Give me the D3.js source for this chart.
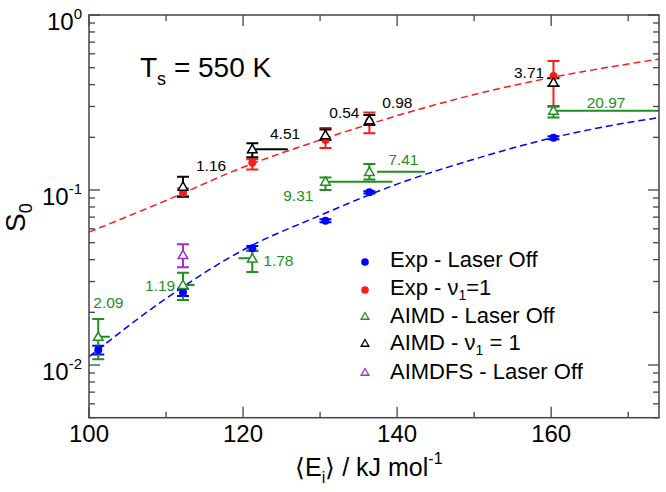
<!DOCTYPE html>
<html><head><meta charset="utf-8">
<script src="https://cdn.jsdelivr.net/npm/d3@7"></script>
<style>html,body{margin:0;padding:0;background:#fff;} svg{display:block;font-family:"Liberation Sans",Arial,Helvetica,sans-serif;}</style>
</head><body>
<svg id="chart" width="666" height="492"></svg>
<script>
// ---- data ----
const energies = [101.2, 112.2, 121.2, 130.7, 136.4, 160.3];
const expOff   = [0.0122, 0.026, 0.0464, 0.0668, 0.097, 0.199];
const expOffLo = [0.0115, 0.0248, 0.0449, 0.0655, 0.0955, 0.195];
const expOffHi = [0.0129, 0.0273, 0.0479, 0.0681, 0.0985, 0.203];
const expV1E   = [112.2, 121.2, 130.7, 136.4, 160.3];
const expV1    = [0.0965, 0.143, 0.193, 0.248, 0.448];
const expV1Lo  = [0.092, 0.131, 0.174, 0.211, 0.302];
const expV1Hi  = [0.102, 0.150, 0.226, 0.277, 0.546];
const aimdOff   = [0.0145, 0.0287, 0.0407, 0.1116, 0.127, 0.284];
const aimdOffLo = [0.0108, 0.0235, 0.034, 0.100, 0.115, 0.26];
const aimdOffHi = [0.0183, 0.0337, 0.045, 0.118, 0.141, 0.299];
const aimdOffLineFrom = [101.2, 112.2, 119.4, 130.7, 137.4, 160.3];
const aimdOffLineTo   = [102.7, 113.7, 121.2, 139.4, 143.6, 180];
const aimdOffLabels   = ["2.09", "1.19", "1.78", "9.31", "7.41", "20.97"];
const aimdV1E   = [112.2, 121.2, 130.7, 136.4, 160.3];
const aimdV1    = [0.1045, 0.171, 0.206, 0.251, 0.412];
const aimdV1Lo  = [0.0916, 0.154, 0.193, 0.235, 0.393];
const aimdV1Hi  = [0.119, 0.185, 0.222, 0.268, 0.435];
const aimdV1LineFrom = [null, 121.2, null, null, null];
const aimdV1LineTo   = [null, 125.8, null, null, null];
const aimdV1Labels   = ["1.16", "4.51", "0.54", "0.98", "3.71"];
const aimdfsE  = [112.2];
const aimdfs   = [0.0425];
const aimdfsLo = [0.0362];
const aimdfsHi = [0.049];
const fitE   = [100, 110, 120, 130, 140, 150, 160, 170, 174];
const fitOff = [0.01115, 0.024, 0.0454, 0.0716, 0.108, 0.150, 0.198, 0.243, 0.259];
const fitV1  = [0.0575, 0.0871, 0.135, 0.193, 0.266, 0.351, 0.439, 0.525, 0.560];
const xTicks = [100, 120, 140, 160];
const xMinor = [110, 130, 150, 170];
const yDecades = [1, 0.1, 0.01];
const yDecadeLabels = ["0", "-1", "-2"];
const legendItems = [
  {label: "Exp - Laser Off", sub: null, rest: null},
  {label: "Exp - ν", sub: "1", rest: "=1"},
  {label: "AIMD - Laser Off", sub: null, rest: null},
  {label: "AIMD - ν", sub: "1", rest: " = 1"},
  {label: "AIMDFS - Laser Off", sub: null, rest: null}
];

// ---- layout ----
const C = {blue: "#0000ff", red: "#ff1a1a", green: "#1f8f1f", black: "#000", purple: "#9932cc", axis: "#444"};
const L = 89, R = 659, T = 15, B = 417.7;
const svg = d3.select("#chart");
const x = d3.scaleLinear().domain([100, 174]).range([L, R]);
const y = d3.scaleLog().domain([0.005, 1]).range([B, T]);

svg.append("clipPath").attr("id", "clip").append("rect")
  .attr("x", L).attr("y", T).attr("width", R - L).attr("height", B - T);
const plot = svg.append("g").attr("clip-path", "url(#clip)");

// fit curves
const line = d3.line().x(d => x(d[0])).y(d => y(d[1])).curve(d3.curveMonotoneX);
plot.append("path").datum(fitE.map((e, i) => [e, fitOff[i]])).attr("d", line)
  .attr("fill", "none").attr("stroke", C.blue).attr("stroke-width", 1.5).attr("stroke-dasharray", "7,4");
plot.append("path").datum(fitE.map((e, i) => [e, fitV1[i]])).attr("d", line)
  .attr("fill", "none").attr("stroke", C.red).attr("stroke-width", 1.5).attr("stroke-dasharray", "7,4");

// horizontal lines
function hlines(from, to, vals, color) {
  from.forEach((f, i) => {
    if (f == null) return;
    plot.append("line").attr("x1", x(f)).attr("x2", x(to[i]))
      .attr("y1", y(vals[i])).attr("y2", y(vals[i]))
      .attr("stroke", color).attr("stroke-width", 2);
  });
}
hlines(aimdOffLineFrom, aimdOffLineTo, aimdOff, C.green);
hlines(aimdV1LineFrom, aimdV1LineTo, aimdV1, C.black);

// error bars
function errbars(es, lo, hi, color) {
  const g = plot.append("g").attr("stroke", color).attr("stroke-width", 2);
  es.forEach((e, i) => {
    const cx = x(e);
    g.append("line").attr("x1", cx).attr("x2", cx).attr("y1", y(lo[i])).attr("y2", y(hi[i]));
    [lo[i], hi[i]].forEach(v => g.append("line").attr("x1", cx - 6).attr("x2", cx + 6).attr("y1", y(v)).attr("y2", y(v)));
  });
}
errbars(energies, expOffLo, expOffHi, C.blue);
errbars(expV1E, expV1Lo, expV1Hi, C.red);
errbars(energies, aimdOffLo, aimdOffHi, C.green);
errbars(expV1E, aimdV1Lo, aimdV1Hi, C.black);
errbars(aimdfsE, aimdfsLo, aimdfsHi, C.purple);

// markers
const tri = d3.symbol().type(d3.symbolTriangle).size(40);
const triSmall = d3.symbol().type(d3.symbolTriangle).size(26);
function dots(es, vals, color) {
  plot.append("g").selectAll("circle").data(es).join("circle")
    .attr("cx", d => x(d)).attr("cy", (d, i) => y(vals[i])).attr("r", 4).attr("fill", color);
}
function tris(es, vals, color) {
  plot.append("g").selectAll("path").data(es).join("path")
    .attr("d", tri).attr("transform", (d, i) => `translate(${x(d)},${y(vals[i]) + 0.8})`)
    .attr("fill", "#fff").attr("stroke", color).attr("stroke-width", 1.5);
}
dots(energies, expOff, C.blue);
dots(expV1E, expV1, C.red);
tris(energies, aimdOff, C.green);
tris(aimdV1E, aimdV1, C.black);
tris(aimdfsE, aimdfs, C.purple);

// annotations
const greenLabelPos = [[93.3, 308.3], [145, 291], [263.3, 265.7], [283.3, 200.7], [388.3, 165], [586.7, 107.7]];
const blackLabelPos = [[196, 170.7], [270, 139], [329.3, 118.3], [382.3, 108.3], [514, 78.3]];
aimdOffLabels.forEach((t, i) => svg.append("text").attr("x", greenLabelPos[i][0]).attr("y", greenLabelPos[i][1])
  .attr("font-size", 15.5).attr("fill", C.green).text(t));
aimdV1Labels.forEach((t, i) => svg.append("text").attr("x", blackLabelPos[i][0]).attr("y", blackLabelPos[i][1])
  .attr("font-size", 15.5).attr("fill", C.black).text(t));

// frame
svg.append("rect").attr("x", L).attr("y", T).attr("width", R - L).attr("height", B - T)
  .attr("fill", "none").attr("stroke", C.axis).attr("stroke-width", 1.5);
const ticks = svg.append("g").attr("stroke", C.axis).attr("stroke-width", 1.3);
xTicks.forEach(v => {
  ticks.append("line").attr("x1", x(v)).attr("x2", x(v)).attr("y1", B).attr("y2", B - 11);
  ticks.append("line").attr("x1", x(v)).attr("x2", x(v)).attr("y1", T).attr("y2", T + 11);
});
xMinor.forEach(v => {
  ticks.append("line").attr("x1", x(v)).attr("x2", x(v)).attr("y1", B).attr("y2", B - 6);
  ticks.append("line").attr("x1", x(v)).attr("x2", x(v)).attr("y1", T).attr("y2", T + 6);
});
y.ticks().forEach(v => {
  const major = yDecades.includes(+v.toPrecision(3));
  const len = major ? 11 : 6;
  ticks.append("line").attr("x1", L).attr("x2", L + len).attr("y1", y(v)).attr("y2", y(v));
  ticks.append("line").attr("x1", R).attr("x2", R - len).attr("y1", y(v)).attr("y2", y(v));
});

// tick labels
xTicks.forEach(v => svg.append("text").attr("x", x(v)).attr("y", 442).attr("text-anchor", "middle")
  .attr("font-size", 24).text(v));
yDecades.forEach((v, i) => {
  const t = svg.append("text").attr("x", 82).attr("y", y(v) + 15).attr("text-anchor", "end").attr("font-size", 24);
  t.append("tspan").text("10");
  t.append("tspan").attr("font-size", 15).attr("dy", -11).text(yDecadeLabels[i]);
});

// axis titles
const yt = svg.append("text").attr("transform", "translate(25,232) rotate(-90)").attr("font-size", 28);
yt.append("tspan").text("S");
yt.append("tspan").attr("font-size", 18).attr("dy", 7).text("0");

const xt = svg.append("text").attr("x", 295).attr("y", 476).attr("font-size", 25);
xt.append("tspan").text("⟨E");
xt.append("tspan").attr("font-size", 16).attr("dy", 7).text("i");
xt.append("tspan").attr("dy", -7).text("⟩ / kJ mol");
xt.append("tspan").attr("font-size", 16).attr("dy", -12).text("-1");

// Ts label
const ts = svg.append("text").attr("x", 140).attr("y", 77).attr("font-size", 28);
ts.append("tspan").text("T");
ts.append("tspan").attr("font-size", 18).attr("dy", 8).text("s");
ts.append("tspan").attr("dy", -8).text(" = 550 K");

// legend
const legColors = [C.blue, C.red, C.green, C.black, C.purple];
const legBase = [267, 295, 323, 350, 379];
legendItems.forEach((it, i) => {
  const yy = legBase[i];
  if (i < 2) {
    svg.append("circle").attr("cx", 365).attr("cy", yy - 5).attr("r", 3.8).attr("fill", legColors[i]);
  } else {
    svg.append("path").attr("d", triSmall).attr("transform", `translate(365,${yy - 6})`)
      .attr("fill", "#fff").attr("stroke", legColors[i]).attr("stroke-width", 1.3);
  }
  const t = svg.append("text").attr("x", 390).attr("y", yy).attr("font-size", 22);
  t.append("tspan").text(it.label);
  if (it.sub) {
    t.append("tspan").attr("font-size", 14).attr("dy", 5).text(it.sub);
    t.append("tspan").attr("dy", -5).text(it.rest);
  }
});
</script>
</body></html>
